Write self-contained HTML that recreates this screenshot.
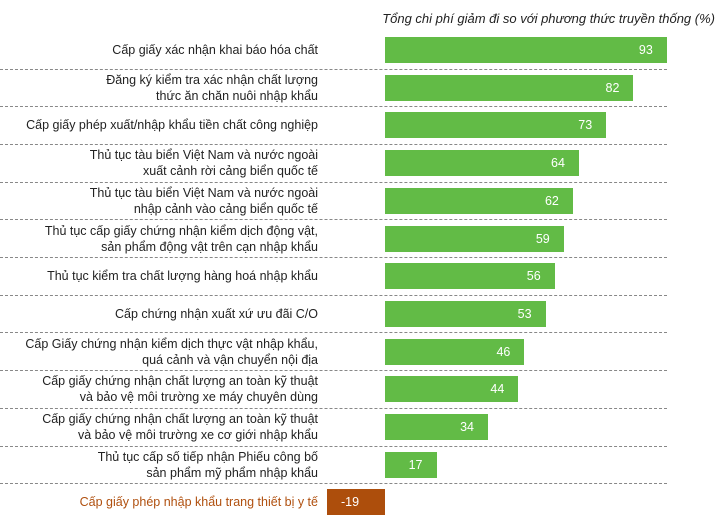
<!DOCTYPE html>
<html><head><meta charset="utf-8"><style>
body{margin:0;width:721px;height:519px;background:#fff;font-family:"Liberation Sans","DejaVu Sans",sans-serif;position:relative;overflow:hidden}
.t{position:absolute;right:6px;top:11px;font-size:13px;font-style:italic;color:#222}
.lab{position:absolute;right:403px;width:340px;text-align:right;font-size:12.5px;line-height:16px;color:#222}
.bar{position:absolute;height:26px;background:#62bb46;color:#fff;font-size:12.5px;line-height:26px;text-align:right;box-sizing:border-box;padding-right:14px}
.sep{position:absolute;left:0;width:667px;border-top:1px dashed #888;height:0}
</style></head><body>
<div class="t">Tổng chi phí giảm đi so với phương thức truyền thống (%)</div>
<div id="c"></div>
<script>
var d=[["Cấp giấy xác nhận khai báo hóa chất",93],
["Đăng ký kiểm tra xác nhận chất lượng<br>thức ăn chăn nuôi nhập khẩu",82],
["Cấp giấy phép xuất/nhập khẩu tiền chất công nghiệp",73],
["Thủ tục tàu biển Việt Nam và nước ngoài<br>xuất cảnh rời cảng biển quốc tế",64],
["Thủ tục tàu biển Việt Nam và nước ngoài<br>nhập cảnh vào cảng biển quốc tế",62],
["Thủ tục cấp giấy chứng nhận kiểm dịch động vật,<br>sản phẩm động vật trên cạn nhập khẩu",59],
["Thủ tục kiểm tra chất lượng hàng hoá nhập khẩu",56],
["Cấp chứng nhận xuất xứ ưu đãi C/O",53],
["Cấp Giấy chứng nhận kiểm dịch thực vật nhập khẩu,<br>quá cảnh và vận chuyển nội địa",46],
["Cấp giấy chứng nhận chất lượng an toàn kỹ thuật<br>và bảo vệ môi trường xe máy chuyên dùng",44],
["Cấp giấy chứng nhận chất lượng an toàn kỹ thuật<br>và bảo vệ môi trường xe cơ giới nhập khẩu",34],
["Thủ tục cấp số tiếp nhận Phiếu công bố<br>sản phẩm mỹ phẩm nhập khẩu",17],
["Cấp giấy phép nhập khẩu trang thiết bị y tế",-19]];
var h="";
d.forEach(function(r,i){
 var top=37+i*37.7, c=top+13;
 var two=r[0].indexOf("<br>")>=0;
 var lt=c-(two?16:8);
 if(r[1]<0){
  h+='<div class="lab" style="top:'+lt+'px;color:#b0500f">'+r[0]+'</div>';
  h+='<div class="bar" style="background:#ad4e0c;left:327px;width:58px;top:'+top+'px;text-align:left;padding-left:14px">'+r[1]+'</div>';
 }else{
  h+='<div class="lab" style="top:'+lt+'px">'+r[0]+'</div>';
  h+='<div class="bar" style="left:385px;width:'+(r[1]*3.03)+'px;top:'+top+'px">'+r[1]+'</div>';
 }
 if(i<12)h+='<div class="sep" style="top:'+(top+31.5)+'px"></div>';
});
document.getElementById("c").innerHTML=h;
</script>
</body></html>
